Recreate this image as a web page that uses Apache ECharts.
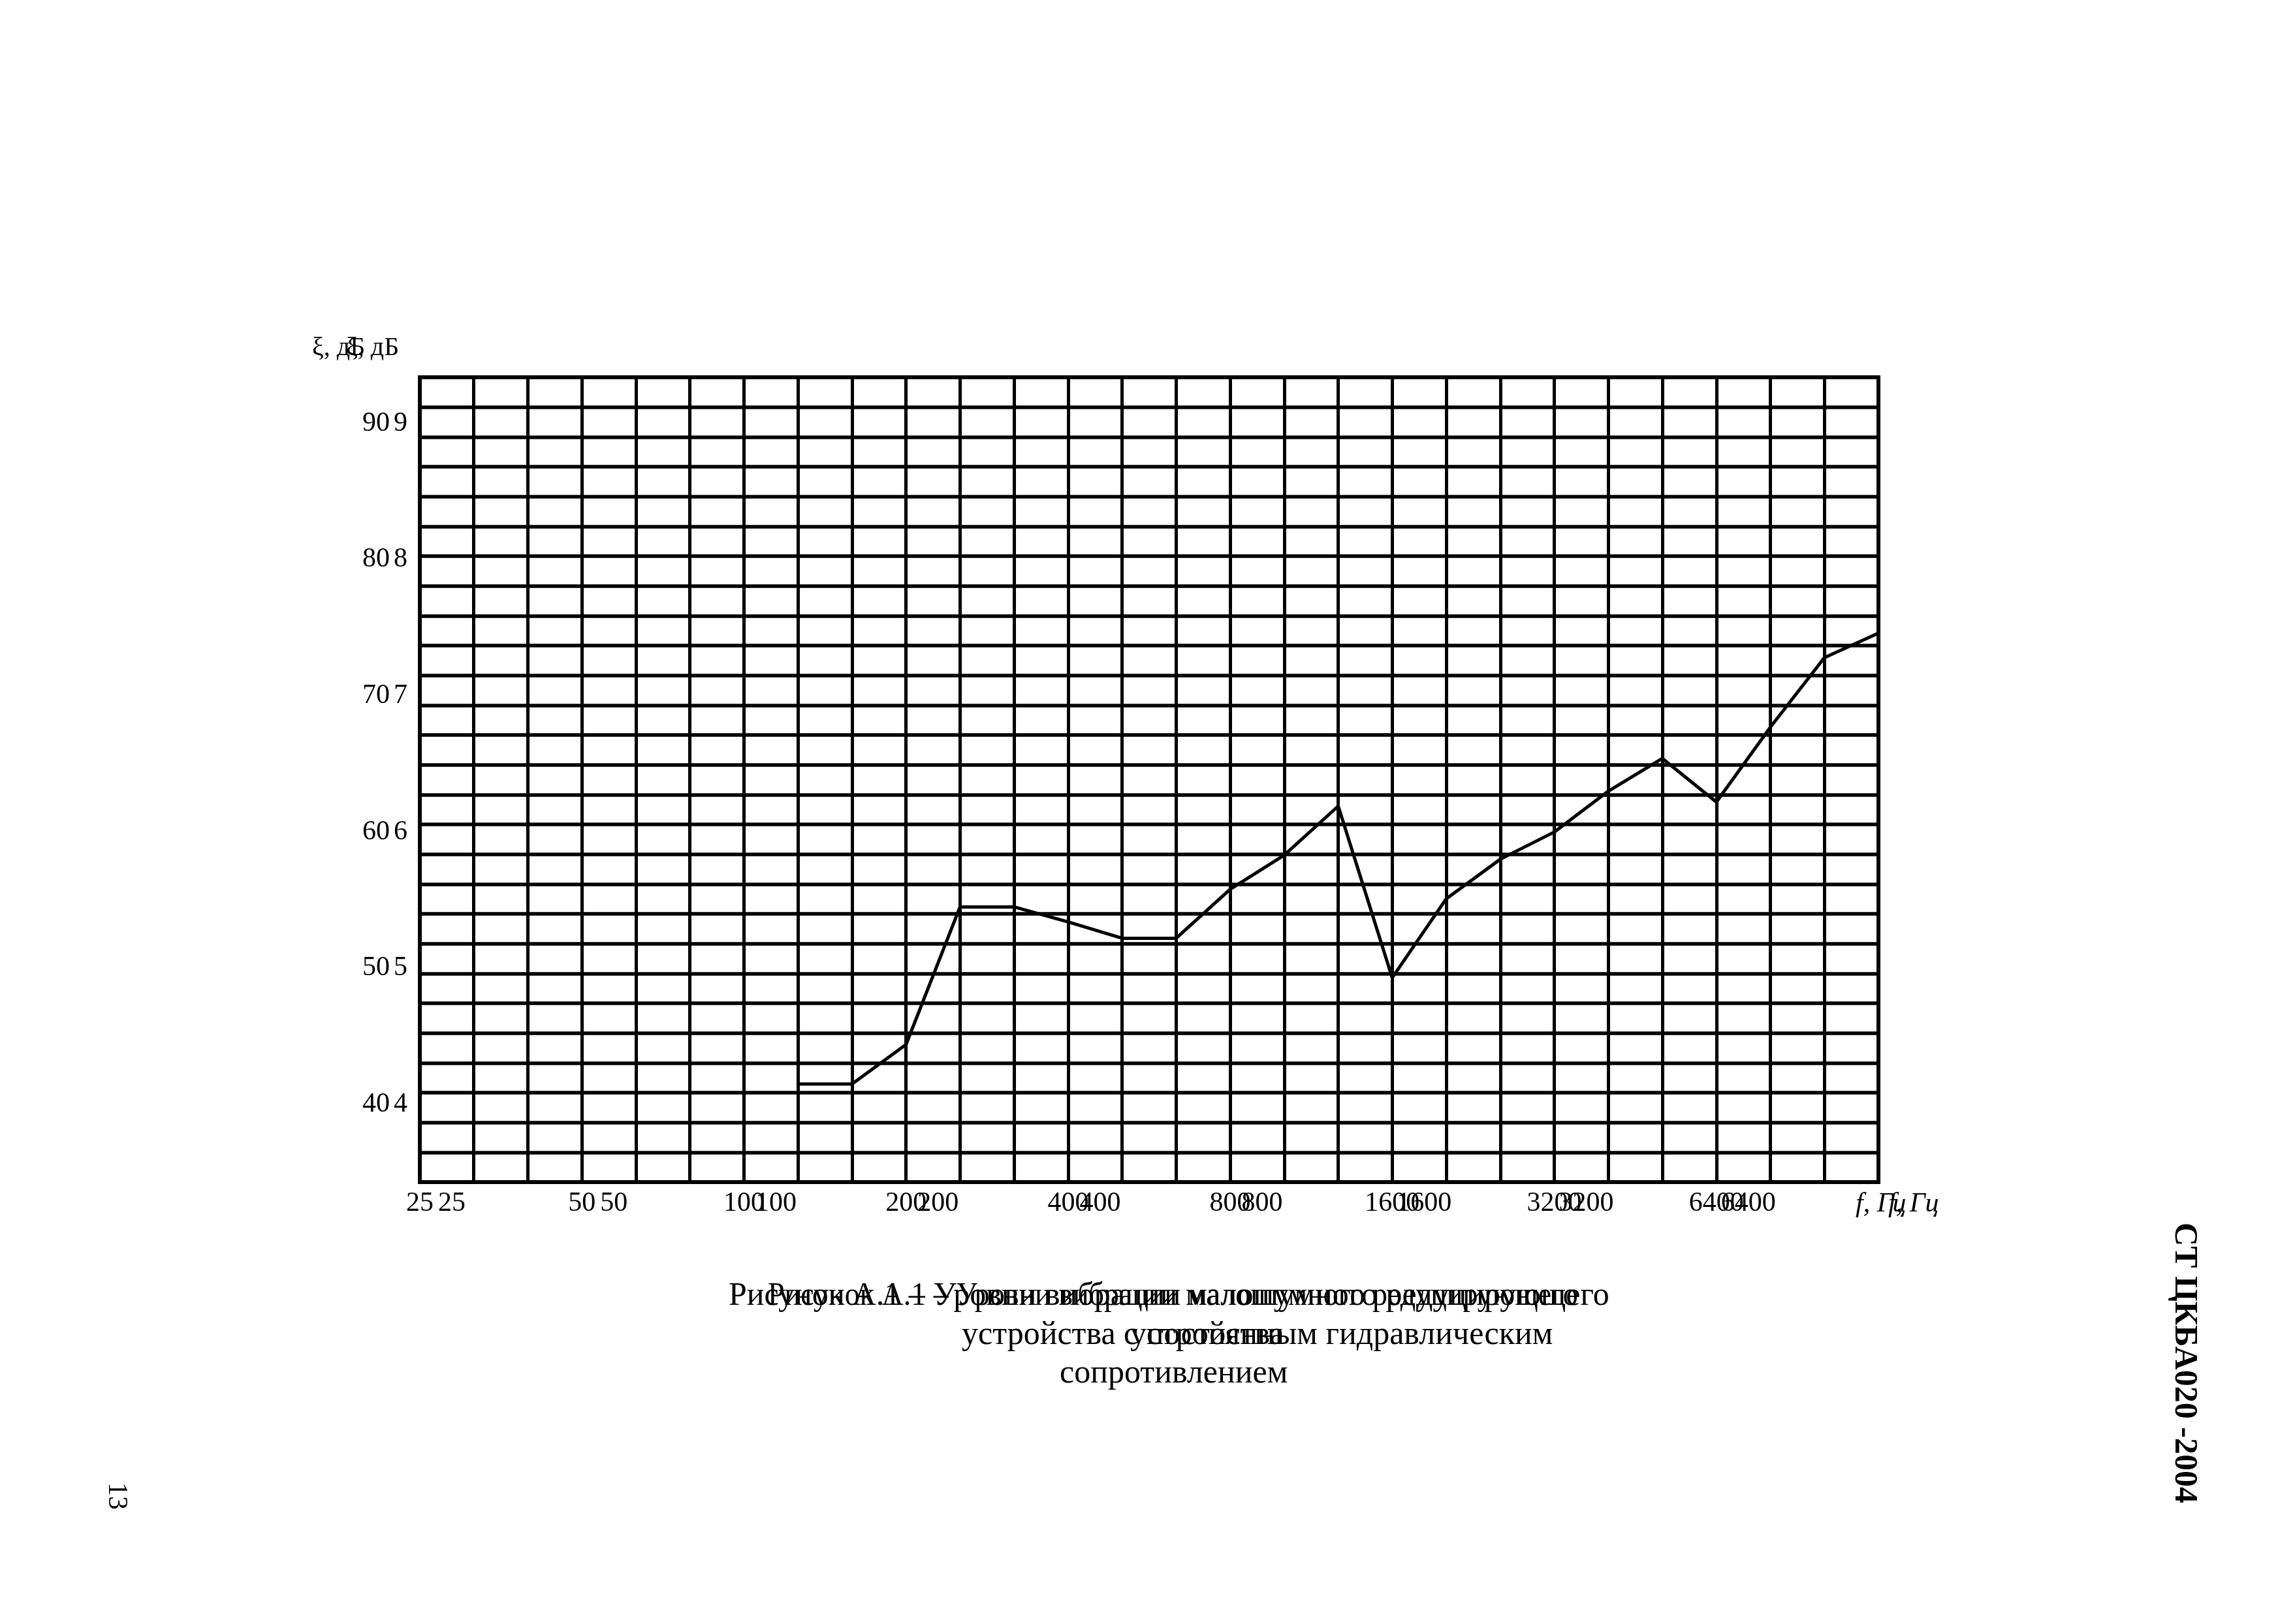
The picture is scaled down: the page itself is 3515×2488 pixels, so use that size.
<!DOCTYPE html>
<html>
<head>
<meta charset="utf-8">
<script src="https://cdn.jsdelivr.net/npm/echarts@6.0.0/dist/echarts.min.js"></script>
<style>
html,body{margin:0;padding:0;background:#fff;}
#chart{width:3515px;height:2488px;}
</style>
</head>
<body>
<div id="chart"></div>
<script>
// 1/3-octave band centres, Hz (one vertical grid line per band)
const bands = ["25","31.5","40","50","63","80","100","125","160","200","250","315","400","500","630","800","1000","1250","1600","2000","2500","3150","4000","5000","6300","8000","10000","12500"];
// vibration level ξ, dB, per band (null = not measured)
const levels = [null,null,null,null,null,null,null,41.5,41.5,44.4,54.5,54.5,53.4,52.2,52.2,55.8,58.3,61.9,49.3,55.1,58.0,60.0,63.0,65.4,62.2,67.7,72.8,74.6];
// x tick labels and the bands they sit on
const tickBands  = ["25","50","100","200","400","800","1600","3150","6300"];
const tickLabels = ["25","50","100","200","400","800","1600","3200","6400"];
// y tick labels
const yTicks = [40,50,60,70,80,90];
const yMin = 34.3, yMax = 93.38;
const gridRows = 27;

const FONT = "Liberation Serif";
const chart = echarts.init(document.getElementById('chart'), null, {renderer:'canvas'});

const xLabelIndex = v => tickBands.indexOf(v);

const option = {
  animation: false,
  backgroundColor: '#ffffff',
  grid: {left: 643, top: 578, width: 2234, height: 1233, show: true,
         borderColor: '#000', borderWidth: 6, backgroundColor: '#fff'},
  xAxis: [
    {type: 'category', data: bands, boundaryGap: false,
     axisLine: {show: true, lineStyle: {color: '#000', width: 6}},
     axisTick: {show: false},
     splitLine: {show: true, interval: 0, lineStyle: {color: '#000', width: 5}},
     axisLabel: {show: true, interval: (i, v) => xLabelIndex(v) >= 0,
                 formatter: v => tickLabels[xLabelIndex(v)],
                 fontFamily: FONT, fontSize: 42, color: '#000', margin: 12}},
    {type: 'category', data: bands, boundaryGap: false, position: 'bottom',
     axisLine: {show: false}, axisTick: {show: false}, splitLine: {show: false},
     axisLabel: {show: true, interval: (i, v) => xLabelIndex(v) >= 0,
                 formatter: v => tickLabels[xLabelIndex(v)],
                 padding: [0, 0, 0, 98],
                 fontFamily: FONT, fontSize: 42, color: '#000', margin: 12}}
  ],
  yAxis: [
    {type: 'value', min: yMin, max: yMax,
     axisLine: {show: true, lineStyle: {color: '#000', width: 6}},
     axisTick: {show: false}, splitLine: {show: false},
     axisLabel: {customValues: yTicks, fontFamily: FONT, fontSize: 42, color: '#000', margin: 46}},
    {type: 'value', min: yMin, max: yMax, position: 'left',
     axisLine: {show: false}, axisTick: {show: false}, splitLine: {show: false},
     axisLabel: {customValues: yTicks, formatter: v => String(v)[0], align: 'left',
                 fontFamily: FONT, fontSize: 42, color: '#000', margin: 40}},
    {type: 'value', min: 0, max: gridRows, interval: 1, position: 'right',
     axisLine: {show: false}, axisTick: {show: false}, axisLabel: {show: false},
     splitLine: {show: true, lineStyle: {color: '#000', width: 5.5}}}
  ],
  series: [
    {type: 'line', xAxisIndex: 0, yAxisIndex: 0, data: levels, showSymbol: false,
     symbol: 'none', connectNulls: false, z: 5,
     lineStyle: {color: '#000', width: 5}}
  ],
  graphic: [
    // y axis title (with overprinted duplicate as in the scan)
    {type: 'text', x: 478, y: 533, style: {text: 'ξ, дБ', font: '40px "Liberation Serif"', fill: '#000', textVerticalAlign: 'middle'}},
    {type: 'text', x: 530, y: 533, style: {text: 'ξ, дБ', font: '40px "Liberation Serif"', fill: '#000', textVerticalAlign: 'middle'}},
    // x axis title
    {type: 'text', x: 2842, y: 1845, style: {text: 'f, Гц', font: 'italic 42px "Liberation Serif"', fill: '#000', textVerticalAlign: 'middle'}},
    {type: 'text', x: 2892, y: 1845, style: {text: 'f, Гц', font: 'italic 42px "Liberation Serif"', fill: '#000', textVerticalAlign: 'middle'}},
    // caption (two overprinted layers)
    {type: 'text', x: 1116, y: 1986, style: {text: 'Рисунок А.1 – Уровни вибрации малошумного редуцирующего', font: '50px "Liberation Serif"', fill: '#000', textVerticalAlign: 'middle'}},
    {type: 'text', x: 1176, y: 1986, scaleX: 0.92, style: {text: 'Рисунок А.1 – Уровни вибрации малошумного редуцирующего', font: '50px "Liberation Serif"', fill: '#000', textVerticalAlign: 'middle'}},
    {type: 'text', x: 1473, y: 2046, style: {text: 'устройства с постоянным гидравлическим', font: '50px "Liberation Serif"', fill: '#000', textVerticalAlign: 'middle'}},
    {type: 'text', x: 1731, y: 2046, style: {text: 'устройства', font: '50px "Liberation Serif"', fill: '#000', textVerticalAlign: 'middle'}},
    {type: 'text', x: 1623, y: 2105, style: {text: 'сопротивлением', font: '50px "Liberation Serif"', fill: '#000', textVerticalAlign: 'middle'}},
    // page header (rotated) and page number
    {type: 'text', x: 3345, y: 2088, rotation: -Math.PI / 2, style: {text: 'СТ ЦКБА020 -2004', font: 'bold 50px "Liberation Serif"', fill: '#000', textAlign: 'center', textVerticalAlign: 'middle'}},
    {type: 'text', x: 178, y: 2292, rotation: -Math.PI / 2, style: {text: '13', font: '42px "Liberation Serif"', fill: '#000', textAlign: 'center', textVerticalAlign: 'middle'}}
  ]
};
chart.setOption(option);
</script>
</body>
</html>
